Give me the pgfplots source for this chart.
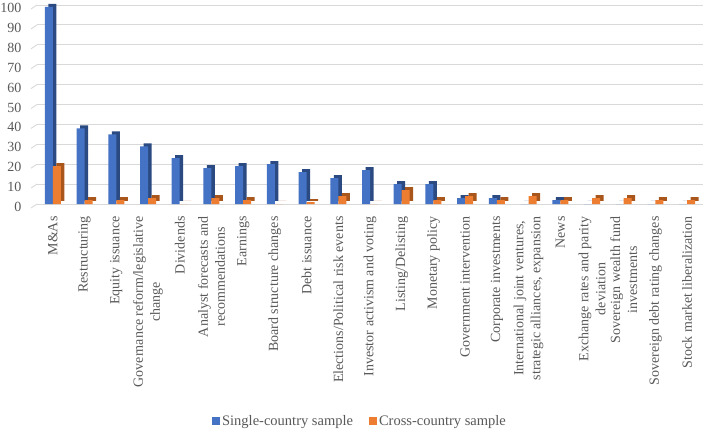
\documentclass[border=0pt]{standalone}
\usepackage{fontspec}
\setmainfont{Liberation Serif}
\usepackage{pgfplots}
\pgfplotsset{compat=1.18}
\definecolor{cblue}{HTML}{4472C4}
\definecolor{cbluedark}{HTML}{2B4A82}
\definecolor{corange}{HTML}{ED7D31}
\definecolor{corangedark}{HTML}{A9561C}
\definecolor{gridc}{HTML}{D9D9D9}
\definecolor{textc}{HTML}{595959}
\newcommand{\lblfont}{\fontsize{14bp}{17bp}\selectfont}
\begin{document}
\begin{tikzpicture}
\path[use as bounding box] (0,0) rectangle (709bp,433bp);
\begin{axis}[
  at={(37bp,229bp)}, anchor=south west, scale only axis,
  width=666bp, height=199bp,
  xmin=-0.5, xmax=20.5, ymin=0, ymax=100,
  ytick={0,10,...,100},
  xtick={0,...,20},
  xticklabels={M\&As, Restructuring, Equity issuance, {Governance reform/legislative\\change}, Dividends, {Analyst forecasts and\\recommendations}, Earnings, Board structure changes, Debt issuance, Elections/Political risk events, Investor activism and voting, Listing/Delisting, Monetary policy, Government intervention, Corporate investments, {International joint ventures,\\strategic alliances, expansion}, News, {Exchange rates and parity\\deviation}, {Sovereign wealth fund\\investments}, Sovereign debt rating changes, Stock market liberalization},
  axis line style={draw=none},
  major tick length=0pt,
  ymajorgrids, grid style={gridc, line width=0.9bp},
  /pgf/number format/assume math mode=true,
  tick label style={font=\lblfont, text=textc},
  xticklabel style={rotate=90, anchor=east, align=center},
  xticklabel shift=9bp,
  yticklabel style={xshift=-12bp, yshift=-3bp},
  clip=false,
  legend style={at={(0.485,-1.09)}, anchor=center, legend columns=2, draw=none, font=\fontsize{14.5bp}{17bp}\selectfont, text=textc,
    /tikz/every even column/.append style={column sep=14bp}},
  legend image code/.code={\fill[#1] (0bp,-4bp) rectangle (8bp,4bp);},
]
% left wall edges of the grid
\pgfplotsinvokeforeach{0,10,...,100}{
  \draw[gridc, line width=0.9bp] ([xshift=-6bp,yshift=-4bp]axis cs:-0.5,#1) -- (axis cs:-0.5,#1);
}
% Single-country sample: shadow (3D side/top)
\addplot[ybar, bar width=8bp, bar shift=-0.5bp, fill=cbluedark, draw=none, forget plot, transform canvas={yshift=3bp}]
  coordinates {(0,99) (1,38) (2,35) (3,29) (4,23) (5,18) (6,19) (7,20) (8,16) (9,13) (10,17) (11,10) (12,10) (13,3) (14,3) (15,0) (16,2) (17,0) (18,0) (19,0) (20,0)};
\addplot[ybar, bar width=8bp, bar shift=-4bp, fill=cblue, draw=none]
  coordinates {(0,99) (1,38) (2,35) (3,29) (4,23) (5,18) (6,19) (7,20) (8,16) (9,13) (10,17) (11,10) (12,10) (13,3) (14,3) (15,0) (16,2) (17,0) (18,0) (19,0) (20,0)};
\addlegendentry{Single-country sample}
% Cross-country sample
\addplot[ybar, bar width=8bp, bar shift=7.5bp, fill=corangedark, draw=none, forget plot, transform canvas={yshift=3bp}]
  coordinates {(0,19) (1,2) (2,2) (3,3) (4,0) (5,3) (6,2) (7,0) (8,1) (9,4) (10,0) (11,7) (12,2) (13,4) (14,2) (15,4) (16,2) (17,3) (18,3) (19,2) (20,2)};
\addplot[ybar, bar width=8bp, bar shift=4bp, fill=corange, draw=none]
  coordinates {(0,19) (1,2) (2,2) (3,3) (4,0) (5,3) (6,2) (7,0) (8,1) (9,4) (10,0) (11,7) (12,2) (13,4) (14,2) (15,4) (16,2) (17,3) (18,3) (19,2) (20,2)};
\addlegendentry{Cross-country sample}
\end{axis}
\end{tikzpicture}
\end{document}
